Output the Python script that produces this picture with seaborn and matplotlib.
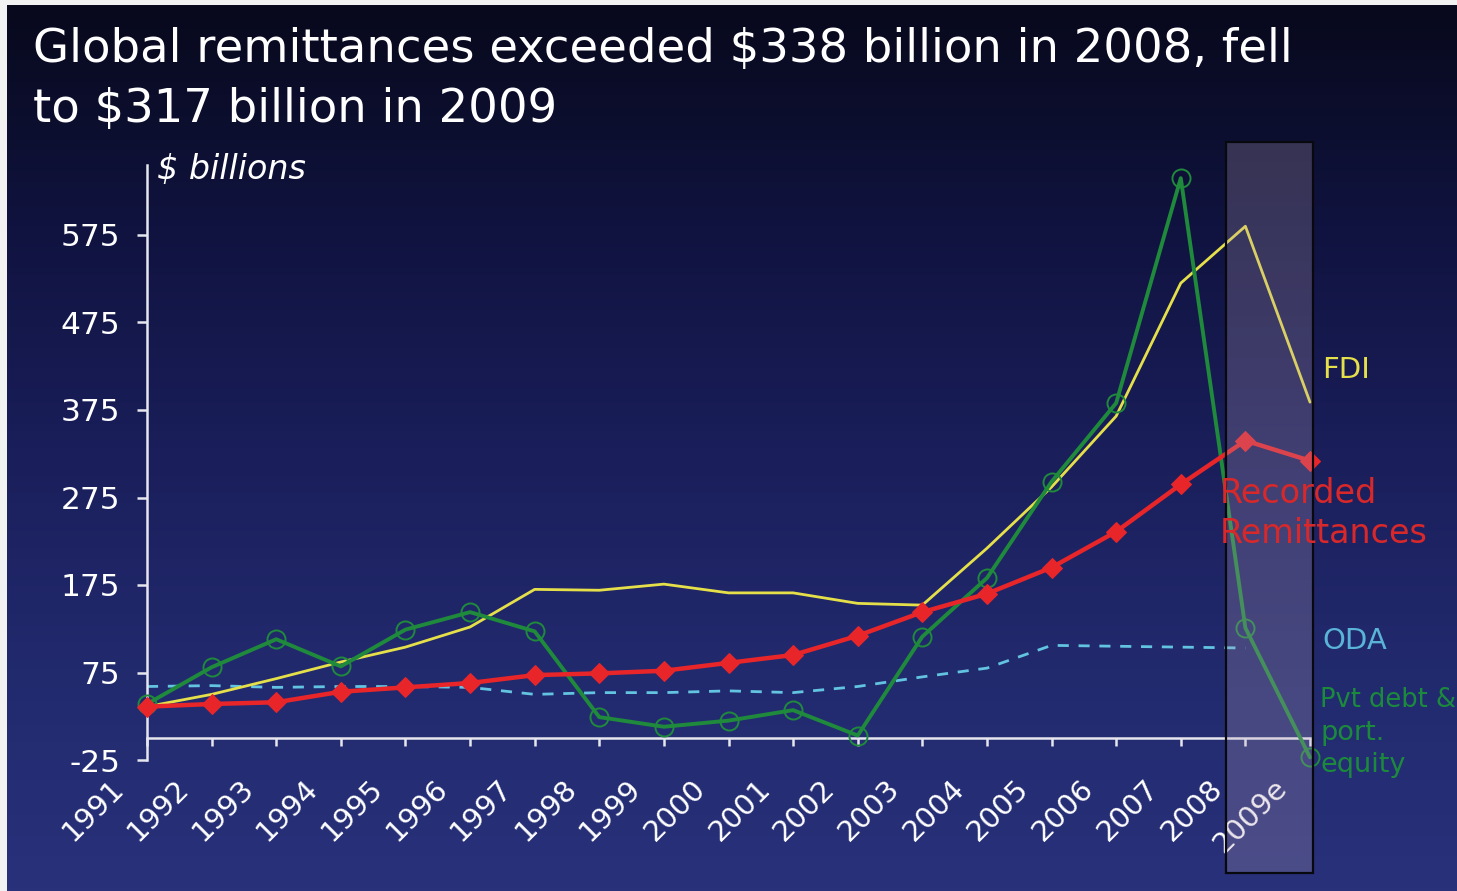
import matplotlib
matplotlib.use('Agg')
import numpy as np
import pandas as pd
import matplotlib.pyplot as plt
import seaborn as sns
from matplotlib.colors import LinearSegmentedColormap
from matplotlib.patches import Rectangle
from matplotlib.transforms import ScaledTranslation, blended_transform_factory


years = list(range(1991, 2010))
year_labels = [str(y) for y in range(1991, 2009)] + ['2009e']

remittances = [36, 39, 41, 53, 58, 63, 72, 74, 77, 86, 95, 117, 144, 165, 195, 236, 290, 340, 317]
fdi = [36, 50, 68, 87, 104, 127, 170, 169, 176, 166, 166, 154, 152, 217, 287, 368, 520, 585, 384]
pvt_debt_equity = [39, 81, 113, 82, 124, 144, 122, 24, 13, 20, 32, 3, 116, 183, 293, 383, 640, 126, -22]
# ODA stops at 2008
oda = [59, 60, 58, 59, 59, 58, 50, 52, 52, 54, 52, 59, 70, 80, 106, 105, 104, 103]

y_ticks = [-25, 75, 175, 275, 375, 475, 575]

W, H, DPI = 1457, 891, 100

RED = '#e8262a'
GREEN = '#1f8a3c'
YELLOW = '#e5e04a'
CYAN = '#62c4e0'
AXIS = '#e6e6ee'


def fx(p):
    return p / W


def fy(p):
    return 1 - p / H


sns.set_style('white')
plt.rcParams['font.family'] = ['DejaVu Sans']

fig = plt.figure(figsize=(W / DPI, H / DPI), dpi=DPI, facecolor='#f2f2f2')

# background gradient
bg = fig.add_axes([fx(7), 0, 1 - fx(7), 1 - 5 / H], zorder=-10)
grad_cmap = LinearSegmentedColormap.from_list(
    'bg', ['#08091c', '#10133f', '#1a1e5a', '#222a6e', '#28317a'])
bg.imshow(np.linspace(0, 1, 256).reshape(-1, 1), aspect='auto', cmap=grad_cmap,
          extent=[0, 1, 0, 1])
bg.axis('off')

ax = fig.add_axes([fx(147), fy(760), fx(1310) - fx(147), fy(165) - fy(760)])
ax.set_facecolor('none')

df = pd.DataFrame({
    'year': years,
    'remittances': remittances,
    'fdi': fdi,
    'pvt': pvt_debt_equity,
})
oda_df = pd.DataFrame({'year': years[:len(oda)], 'oda': oda})

sns.lineplot(data=oda_df, x='year', y='oda', ax=ax, color=CYAN, linewidth=2,
             linestyle=(0, (4, 3.5)), estimator=None, errorbar=None, zorder=2,
             clip_on=False)
sns.lineplot(data=df, x='year', y='fdi', ax=ax, color=YELLOW, linewidth=2,
             estimator=None, errorbar=None, zorder=3, clip_on=False)
sns.lineplot(data=df, x='year', y='pvt', ax=ax, color=GREEN, linewidth=2.8,
             marker='o', markersize=13, markerfacecolor='none',
             markeredgecolor=GREEN, markeredgewidth=1.4,
             estimator=None, errorbar=None, zorder=3, clip_on=False)
sns.lineplot(data=df, x='year', y='remittances', ax=ax, color=RED, linewidth=3.2,
             marker='D', markersize=10, markeredgecolor=RED,
             estimator=None, errorbar=None, zorder=4, clip_on=False)

# shaded estimate box for 2008-2009
trans = blended_transform_factory(ax.transData, fig.transFigure)
box = Rectangle((2007.7, fy(873)), 1.35, fy(142) - fy(873), transform=trans,
                facecolor=(182 / 255, 160 / 255, 184 / 255, 0.25),
                edgecolor='#08080f', linewidth=1.6, zorder=5, clip_on=False)
ax.add_patch(box)

ax.set_xlim(1991, 2009)
ax.set_ylim(-25, 655)
ax.set_xlabel('')
ax.set_ylabel('')

sns.despine(ax=ax)
ax.spines['bottom'].set_position(('data', 0))
for side in ['left', 'bottom']:
    ax.spines[side].set_color(AXIS)
    ax.spines[side].set_linewidth(1.8)

ax.set_yticks(y_ticks)
ax.set_yticklabels([str(v) for v in y_ticks])
ax.set_xticks(years)
ax.set_xticklabels(year_labels)

ax.tick_params(axis='y', length=7.2, width=1.8, pad=12, labelsize=22.5,
               colors=AXIS, labelcolor='white', direction='out', left=True)
ax.tick_params(axis='x', length=5.8, width=1.8, pad=20, labelsize=21,
               colors=AXIS, labelcolor='white', direction='out', bottom=True,
               labelrotation=45)

ax.text(1991.155, 639, '\\$ billions', color='white', fontsize=24,
        style='italic', va='baseline', ha='left')

# series labels at the right
ax.text(2009.19, 411, 'FDI', color=YELLOW, fontsize=21, va='baseline', zorder=6)
ax.text(2007.6, 269, 'Recorded', color='#d8282a', fontsize=24, va='baseline', zorder=6)
ax.text(2007.6, 223, 'Remittances', color='#d8282a', fontsize=24, va='baseline', zorder=6)
ax.text(2009.19, 102, 'ODA', color='#5ab4d8', fontsize=21, va='baseline', zorder=6)
ax.text(2009.16, 36, 'Pvt debt &', color='#1c8a3c', fontsize=18.5, va='baseline', zorder=6)
ax.text(2009.16, -2, 'port.', color='#1c8a3c', fontsize=19.5, va='baseline', zorder=6)
ax.text(2009.16, -39, 'equity', color='#1c8a3c', fontsize=19.5, va='baseline', zorder=6)

fig.text(fx(33), fy(62), 'Global remittances exceeded \\$338 billion in 2008, fell',
         color='white', fontsize=33.5, va='baseline', ha='left')
fig.text(fx(33), fy(122), 'to \\$317 billion in 2009',
         color='white', fontsize=33.5, va='baseline', ha='left')

fig.canvas.draw()
shift = ScaledTranslation(-17 / DPI, 0, fig.dpi_scale_trans)
for lab in ax.get_xticklabels():
    lab.set_rotation(45)
    lab.set_ha('right')
    lab.set_va('top')
    lab.set_transform(lab.get_transform() + shift)

fig.savefig('out.png', dpi=DPI, facecolor=fig.get_facecolor())
